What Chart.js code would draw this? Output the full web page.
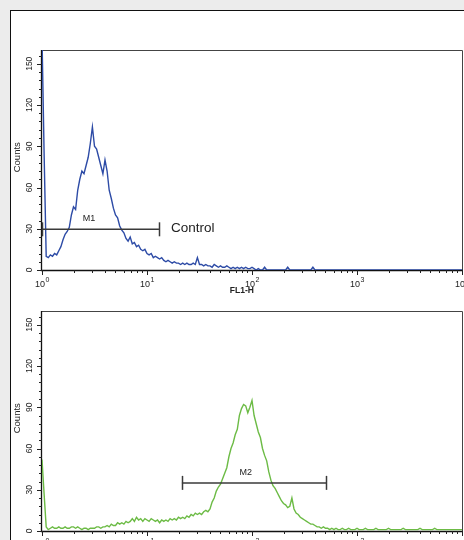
<!DOCTYPE html>
<html>
<head>
<meta charset="utf-8">
<script src="https://cdn.jsdelivr.net/npm/chart.js@4/dist/chart.umd.min.js"></script>
<style>
  html, body { margin: 0; padding: 0; }
  body { width: 464px; height: 540px; background: #ececec; overflow: hidden; position: relative; }
  #painel { position: absolute; left: 10px; top: 10px; width: 480px; height: 560px; background: #fff; border: 1.5px solid #111; }
  canvas { position: absolute; left: 0; }
  #grafico-controle { top: 0; }
  #grafico-amostra { top: 300px; }
</style>
</head>
<body>
<div id="painel"></div>
<canvas id="grafico-controle" width="464" height="300"></canvas>
<canvas id="grafico-amostra" width="464" height="240"></canvas>
<script>
// histogramas FL1-H — 50 canais por década, de 10^0 a 10^4
const canaisPorDecada = 50;

const contagensControle = [
  170, 85, 10, 9, 11, 10, 12, 11, 14, 17,
  22, 26, 28, 31, 40, 46, 44, 58, 66, 72,
  70, 76, 82, 92, 104, 90, 88, 82, 76, 70,
  80, 72, 58, 52, 45, 40, 38, 32, 29, 27,
  23, 21, 24, 19, 20, 17, 18, 15, 14, 15,
  12, 11, 12, 9, 10, 9, 8, 9, 7, 6,
  7, 6, 5, 6, 5, 5, 4, 5, 4, 5,
  4, 4, 5, 4, 9, 4, 4, 3, 4, 3,
  3, 2, 4, 3, 2, 3, 2, 2, 3, 2,
  1, 2, 1, 2, 1, 2, 1, 2, 1, 1,
  2, 1, 0, 1, 0, 0, 2, 0, 0, 0,
  0, 0, 0, 0, 0, 0, 0, 2, 0, 0,
  0, 0, 0, 0, 0, 0, 0, 0, 0, 2,
  0, 0, 0, 0, 0, 0, 0, 0, 0, 0,
  0, 0, 0, 0, 0, 0, 0, 0, 0, 0,
  0, 0, 0, 0, 0, 0, 0, 0, 0, 0,
  0, 0, 0, 0, 0, 0, 0, 0, 0, 0,
  0, 0, 0, 0, 0, 0, 0, 0, 0, 0,
  0, 0, 0, 0, 0, 0, 0, 0, 0, 0,
  0, 0, 0, 0, 0, 0, 0, 0, 0, 0, 0
];

const contagensAmostra = [
  52, 27, 3, 1, 2, 3, 2, 2, 3, 2,
  2, 3, 2, 2, 3, 3, 2, 3, 2, 1,
  2, 2, 1, 2, 2, 2, 3, 3, 2, 3,
  3, 4, 3, 5, 4, 4, 6, 5, 6, 5,
  7, 6, 7, 9, 7, 10, 8, 9, 7, 9,
  8, 7, 9, 8, 7, 8, 6, 8, 7, 8,
  7, 9, 8, 9, 8, 10, 9, 10, 9, 11,
  10, 12, 11, 13, 12, 13, 12, 14, 15, 14,
  16, 21, 24, 29, 32, 34, 38, 42, 46, 54,
  60, 64, 70, 74, 84, 89, 92, 91, 86, 90,
  95, 84, 78, 72, 68, 60, 55, 51, 43, 37,
  33, 31, 28, 25, 22, 20, 19, 17, 18, 24,
  16, 13, 12, 10, 9, 8, 7, 6, 5, 5,
  4, 3, 3, 2, 3, 2, 2, 1, 2, 1,
  2, 1, 1, 2, 1, 1, 2, 1, 1, 1,
  2, 1, 1, 1, 2, 1, 1, 1, 1, 2,
  1, 1, 1, 1, 1, 2, 1, 1, 1, 1,
  1, 1, 2, 1, 1, 1, 1, 1, 1, 1,
  2, 1, 1, 1, 1, 1, 1, 2, 1, 1,
  1, 1, 1, 1, 1, 1, 1, 1, 1, 1, 1
];

// marcadores (intervalo em FL1-H e altura em contagens)
const marcadorM1 = [1, 13];
const alturaM1 = 29.6;
const marcadorM2 = [21.5, 507];
const alturaM2 = 35;

const ticksY = [0, 30, 60, 90, 120, 150];
const ticksYMenores = [6, 12, 18, 24, 36, 42, 48, 54, 66, 72, 78, 84, 96, 102, 108, 114, 126, 132, 138, 144, 156];
const decadas = [1, 10, 100, 1000, 10000];
const expoentes = ['0', '1', '2', '3', '4'];

const corTexto = '#222';

function pontos(contagens) {
  return contagens.map((c, i) => ({ x: Math.pow(10, i / canaisPorDecada), y: c }));
}

// desenha moldura, eixos e rótulos à mão (rótulos do eixo Y são girados)
const eixosPlugin = {
  id: 'eixosCitometria',
  beforeDatasetsDraw(chart) {
    const { ctx, chartArea: a } = chart;
    ctx.save();
    ctx.strokeStyle = '#444';
    ctx.lineWidth = 1;
    ctx.beginPath();
    ctx.moveTo(a.left, a.top + 0.5);
    ctx.lineTo(a.right + 0.5, a.top + 0.5);
    ctx.lineTo(a.right + 0.5, a.bottom);
    ctx.stroke();
    ctx.strokeStyle = '#111';
    ctx.lineWidth = 1.3;
    ctx.beginPath();
    ctx.moveTo(a.left - 0.5, a.top);
    ctx.lineTo(a.left - 0.5, a.bottom + 0.5);
    ctx.lineTo(a.right + 1, a.bottom + 0.5);
    ctx.stroke();
    ctx.restore();
  },
  afterDraw(chart, args, opts) {
    const { ctx, chartArea: a, scales } = chart;
    const sx = scales.x, sy = scales.y;
    ctx.save();
    ctx.strokeStyle = '#222';
    ctx.lineWidth = 1;

    // ticks Y
    ticksY.forEach(v => {
      const y = Math.round(sy.getPixelForValue(v)) + 0.5;
      ctx.beginPath(); ctx.moveTo(a.left - 5, y); ctx.lineTo(a.left, y); ctx.stroke();
    });
    ticksYMenores.forEach(v => {
      const y = Math.round(sy.getPixelForValue(v)) + 0.5;
      ctx.beginPath(); ctx.moveTo(a.left - 3, y); ctx.lineTo(a.left, y); ctx.stroke();
    });

    // ticks X (décadas e subdivisões 2..9)
    decadas.forEach((d, k) => {
      const x = Math.round(sx.getPixelForValue(d)) + 0.5;
      ctx.beginPath(); ctx.moveTo(x, a.bottom); ctx.lineTo(x, a.bottom + 5); ctx.stroke();
      if (k < decadas.length - 1) {
        for (let m = 2; m <= 9; m++) {
          const xm = Math.round(sx.getPixelForValue(d * m)) + 0.5;
          ctx.beginPath(); ctx.moveTo(xm, a.bottom); ctx.lineTo(xm, a.bottom + 3); ctx.stroke();
        }
      }
    });

    ctx.fillStyle = corTexto;
    // rótulos Y girados
    ctx.font = '8.5px Arial, "Liberation Sans", sans-serif';
    ctx.textAlign = 'center';
    ctx.textBaseline = 'middle';
    ticksY.forEach(v => {
      ctx.save();
      ctx.translate(a.left - 12, sy.getPixelForValue(v));
      ctx.rotate(-Math.PI / 2);
      ctx.fillText(String(v), 0, 0);
      ctx.restore();
    });
    ctx.save();
    ctx.font = '9.5px Arial, "Liberation Sans", sans-serif';
    ctx.translate(a.left - 25, sy.getPixelForValue(82));
    ctx.rotate(-Math.PI / 2);
    ctx.fillText('Counts', 0, 0);
    ctx.restore();

    // rótulos X: 10 com expoente
    ctx.textBaseline = 'alphabetic';
    ctx.textAlign = 'left';
    decadas.forEach((d, k) => {
      const x = sx.getPixelForValue(d);
      ctx.font = '9px Arial, "Liberation Sans", sans-serif';
      const wBase = ctx.measureText('10').width;
      ctx.font = '7px Arial, "Liberation Sans", sans-serif';
      const wExp = ctx.measureText(expoentes[k]).width;
      const x0 = x - (wBase + wExp) / 2;
      ctx.font = '9px Arial, "Liberation Sans", sans-serif';
      ctx.fillText('10', x0, a.bottom + 17);
      ctx.font = '7px Arial, "Liberation Sans", sans-serif';
      ctx.fillText(expoentes[k], x0 + wBase + 0.5, a.bottom + 12);
    });
    ctx.textAlign = 'center';
    ctx.font = 'bold 8.5px Arial, "Liberation Sans", sans-serif';
    ctx.fillText('FL1-H', sx.getPixelForValue(80), a.bottom + 23);

    // marcador (barras de extremidade e texto)
    const m = opts.marcador;
    const ym = sy.getPixelForValue(m.altura);
    ctx.strokeStyle = '#3a3a3a';
    ctx.lineWidth = 1.5;
    m.intervalo.forEach(v => {
      const x = Math.round(sx.getPixelForValue(v)) + 0.5;
      ctx.beginPath(); ctx.moveTo(x, ym - 7); ctx.lineTo(x, ym + 7); ctx.stroke();
    });
    ctx.font = '9px Arial, "Liberation Sans", sans-serif';
    ctx.fillText(m.nome, sx.getPixelForValue(m.posNome), ym - 8);
    if (m.legenda) {
      ctx.textAlign = 'left';
      ctx.textBaseline = 'middle';
      ctx.font = '13.5px Arial, "Liberation Sans", sans-serif';
      ctx.fillText(m.legenda, sx.getPixelForValue(m.intervalo[1]) + 12, ym - 1);
    }
    ctx.restore();
  }
};

function criarHistograma(idCanvas, contagens, cor, marcador, padding) {
  const ctx = document.getElementById(idCanvas).getContext('2d');
  return new Chart(ctx, {
    type: 'line',
    data: {
      datasets: [{
        label: marcador.nome,
        data: [{ x: marcador.intervalo[0], y: marcador.altura }, { x: marcador.intervalo[1], y: marcador.altura }],
        borderColor: '#3a3a3a',
        borderWidth: 1.5,
        pointRadius: 0,
        order: 0
      }, {
        label: 'Counts',
        data: pontos(contagens),
        borderColor: cor,
        borderWidth: 1.4,
        pointRadius: 0,
        tension: 0,
        order: 1
      }]
    },
    options: {
      responsive: false,
      animation: false,
      layout: { padding },
      plugins: {
        legend: { display: false },
        tooltip: { enabled: false },
        eixosCitometria: { marcador }
      },
      scales: {
        x: { type: 'logarithmic', min: 1, max: 10000, display: false },
        y: { type: 'linear', min: 0, max: 160, display: false }
      }
    },
    plugins: [eixosPlugin]
  });
}

criarHistograma('grafico-controle', contagensControle, '#2d4ba6',
  { nome: 'M1', intervalo: marcadorM1, altura: alturaM1, posNome: 2.8, legenda: 'Control' },
  { left: 42, top: 50, right: 2, bottom: 30 });

criarHistograma('grafico-amostra', contagensAmostra, '#6cbb45',
  { nome: 'M2', intervalo: marcadorM2, altura: alturaM2, posNome: 87 },
  { left: 42, top: 11, right: 2, bottom: 9 });
</script>
</body>
</html>
